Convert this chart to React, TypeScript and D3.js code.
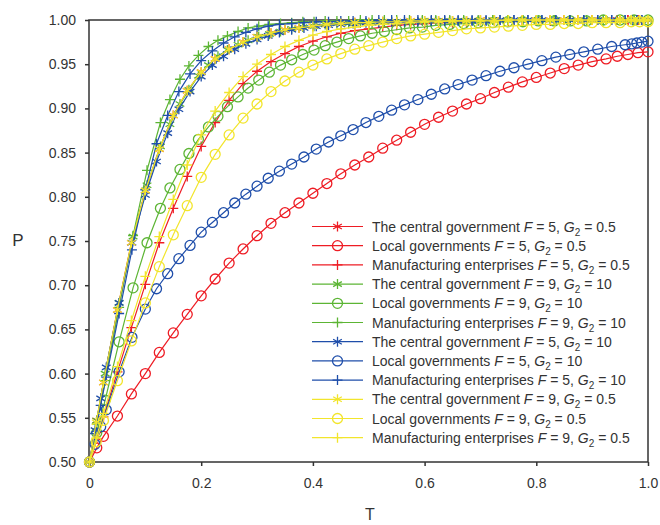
import React, { useEffect, useRef } from "react";
import * as d3 from "d3";

// time points of each solver run (one run per parameter set)
const tRed = [0, 0.013, 0.025, 0.05, 0.075, 0.1, 0.125, 0.15, 0.175, 0.2, 0.225, 0.25, 0.275, 0.3, 0.325, 0.35, 0.375, 0.4, 0.425, 0.45, 0.475, 0.5, 0.525, 0.55, 0.575, 0.6, 0.625, 0.65, 0.675, 0.7, 0.725, 0.75, 0.775, 0.8, 0.825, 0.85, 0.875, 0.9, 0.925, 0.945, 0.964, 0.982, 1.0];
const tGreen = [0, 0.013, 0.028, 0.053, 0.078, 0.103, 0.127, 0.144, 0.162, 0.178, 0.195, 0.213, 0.23, 0.247, 0.266, 0.284, 0.303, 0.322, 0.342, 0.362, 0.382, 0.402, 0.422, 0.443, 0.464, 0.485, 0.506, 0.528, 0.55, 0.573, 0.596, 0.62, 0.645, 0.67, 0.696, 0.722, 0.749, 0.776, 0.804, 0.832, 0.861, 0.89, 0.92, 0.95, 0.975, 1.0];
const tBlue = [0, 0.01, 0.02, 0.03, 0.053, 0.076, 0.1, 0.12, 0.14, 0.16, 0.18, 0.2, 0.22, 0.24, 0.26, 0.28, 0.3, 0.32, 0.34, 0.362, 0.384, 0.406, 0.428, 0.45, 0.472, 0.495, 0.518, 0.541, 0.564, 0.588, 0.612, 0.636, 0.66, 0.685, 0.71, 0.735, 0.76, 0.785, 0.81, 0.835, 0.86, 0.885, 0.91, 0.935, 0.959, 0.971, 0.98, 0.989, 1.0];
const tYellow = [0, 0.012, 0.025, 0.05, 0.075, 0.1, 0.125, 0.15, 0.175, 0.2, 0.225, 0.25, 0.275, 0.3, 0.325, 0.35, 0.375, 0.4, 0.425, 0.45, 0.475, 0.5, 0.525, 0.55, 0.575, 0.6, 0.625, 0.65, 0.675, 0.7, 0.725, 0.75, 0.775, 0.8, 0.825, 0.85, 0.875, 0.9, 0.925, 0.95, 0.97, 0.985, 1.0];

// F = 5, G2 = 0.5
const redCentral = [0.5, 0.547, 0.59, 0.672, 0.748, 0.807, 0.854, 0.892, 0.92, 0.941, 0.956, 0.967, 0.975, 0.981, 0.985, 0.989, 0.991, 0.993, 0.995, 0.996, 0.997, 0.997, 0.998, 0.998, 0.999, 0.999, 0.999, 0.999, 0.999, 1.0, 1.0, 1.0, 1.0, 1.0, 1.0, 1.0, 1.0, 1.0, 1.0, 1.0, 1.0, 1.0, 1.0];
const redLocal = [0.5, 0.516, 0.529, 0.552, 0.577, 0.6, 0.624, 0.646, 0.667, 0.688, 0.707, 0.725, 0.741, 0.756, 0.77, 0.782, 0.793, 0.804, 0.815, 0.826, 0.836, 0.845, 0.855, 0.864, 0.873, 0.882, 0.89, 0.897, 0.905, 0.911, 0.918, 0.924, 0.93, 0.935, 0.94, 0.945, 0.949, 0.953, 0.956, 0.959, 0.961, 0.963, 0.964];
const redManufacturing = [0.5, 0.526, 0.551, 0.602, 0.652, 0.701, 0.748, 0.787, 0.823, 0.857, 0.884, 0.909, 0.928, 0.942, 0.953, 0.962, 0.97, 0.976, 0.981, 0.985, 0.988, 0.99, 0.992, 0.994, 0.995, 0.996, 0.997, 0.997, 0.998, 0.998, 0.999, 0.999, 0.999, 0.999, 0.999, 1.0, 1.0, 1.0, 1.0, 1.0, 1.0, 1.0, 1.0];

// F = 9, G2 = 10
const greenCentral = [0.5, 0.547, 0.6, 0.68, 0.755, 0.813, 0.857, 0.882, 0.905, 0.921, 0.937, 0.949, 0.959, 0.966, 0.972, 0.977, 0.981, 0.984, 0.987, 0.99, 0.992, 0.993, 0.995, 0.996, 0.996, 0.997, 0.997, 0.998, 0.998, 0.998, 0.999, 0.999, 0.999, 0.999, 0.999, 1.0, 1.0, 1.0, 1.0, 1.0, 1.0, 1.0, 1.0, 1.0, 1.0, 1.0];
const greenLocal = [0.5, 0.533, 0.57, 0.636, 0.697, 0.748, 0.787, 0.81, 0.831, 0.849, 0.865, 0.879, 0.891, 0.902, 0.913, 0.923, 0.932, 0.941, 0.949, 0.955, 0.961, 0.966, 0.971, 0.975, 0.979, 0.982, 0.985, 0.987, 0.989, 0.991, 0.992, 0.994, 0.995, 0.996, 0.997, 0.997, 0.998, 0.998, 0.999, 0.999, 0.999, 0.999, 1.0, 1.0, 1.0, 1.0];
const greenManufacturing = [0.5, 0.543, 0.592, 0.675, 0.756, 0.83, 0.884, 0.91, 0.933, 0.948, 0.96, 0.97, 0.977, 0.982, 0.987, 0.991, 0.993, 0.995, 0.996, 0.997, 0.998, 0.998, 0.999, 0.999, 0.999, 1.0, 1.0, 1.0, 1.0, 1.0, 1.0, 1.0, 1.0, 1.0, 1.0, 1.0, 1.0, 1.0, 1.0, 1.0, 1.0, 1.0, 1.0, 1.0, 1.0, 1.0];

// F = 5, G2 = 10
const blueCentral = [0.5, 0.536, 0.572, 0.607, 0.68, 0.748, 0.802, 0.84, 0.872, 0.899, 0.919, 0.936, 0.949, 0.959, 0.967, 0.973, 0.978, 0.982, 0.986, 0.989, 0.991, 0.993, 0.994, 0.995, 0.996, 0.997, 0.997, 0.998, 0.998, 0.998, 0.999, 0.999, 0.999, 0.999, 0.999, 1.0, 1.0, 1.0, 1.0, 1.0, 1.0, 1.0, 1.0, 1.0, 1.0, 1.0, 1.0, 1.0, 1.0];
const blueLocal = [0.5, 0.52, 0.54, 0.559, 0.602, 0.641, 0.673, 0.696, 0.713, 0.73, 0.745, 0.76, 0.771, 0.782, 0.793, 0.803, 0.812, 0.821, 0.829, 0.837, 0.845, 0.854, 0.862, 0.869, 0.876, 0.884, 0.891, 0.898, 0.904, 0.91, 0.916, 0.922, 0.927, 0.932, 0.937, 0.942, 0.946, 0.95, 0.954, 0.958, 0.961, 0.964, 0.967, 0.97, 0.972, 0.973, 0.974, 0.975, 0.976];
const blueManufacturing = [0.5, 0.532, 0.564, 0.596, 0.668, 0.74, 0.808, 0.86, 0.892, 0.919, 0.939, 0.954, 0.965, 0.974, 0.981, 0.986, 0.99, 0.993, 0.995, 0.996, 0.997, 0.998, 0.998, 0.999, 0.999, 0.999, 1.0, 1.0, 1.0, 1.0, 1.0, 1.0, 1.0, 1.0, 1.0, 1.0, 1.0, 1.0, 1.0, 1.0, 1.0, 1.0, 1.0, 1.0, 1.0, 1.0, 1.0, 1.0, 1.0];

// F = 9, G2 = 0.5
const yellowCentral = [0.5, 0.545, 0.59, 0.672, 0.748, 0.807, 0.854, 0.892, 0.92, 0.941, 0.956, 0.967, 0.975, 0.981, 0.985, 0.989, 0.991, 0.993, 0.995, 0.996, 0.997, 0.997, 0.998, 0.998, 0.999, 0.999, 0.999, 0.999, 0.999, 1.0, 1.0, 1.0, 1.0, 1.0, 1.0, 1.0, 1.0, 1.0, 1.0, 1.0, 1.0, 1.0, 1.0];
const yellowLocal = [0.5, 0.523, 0.547, 0.592, 0.637, 0.68, 0.721, 0.757, 0.79, 0.822, 0.848, 0.87, 0.889, 0.905, 0.919, 0.931, 0.941, 0.949, 0.956, 0.962, 0.967, 0.971, 0.975, 0.979, 0.982, 0.984, 0.986, 0.988, 0.99, 0.991, 0.992, 0.993, 0.994, 0.995, 0.995, 0.996, 0.996, 0.997, 0.997, 0.997, 0.998, 0.998, 0.998];
const yellowManufacturing = [0.5, 0.527, 0.555, 0.608, 0.66, 0.71, 0.755, 0.797, 0.836, 0.87, 0.897, 0.918, 0.936, 0.95, 0.961, 0.97, 0.977, 0.983, 0.987, 0.99, 0.992, 0.994, 0.995, 0.996, 0.997, 0.998, 0.998, 0.999, 0.999, 0.999, 0.999, 1.0, 1.0, 1.0, 1.0, 1.0, 1.0, 1.0, 1.0, 1.0, 1.0, 1.0, 1.0];

const players = ["The central government", "Local governments", "Manufacturing enterprises"];
const fValues = [5, 9, 5, 9];
const g2Values = ["0.5", "10", "10", "0.5"];
const xTicks = [0, 0.2, 0.4, 0.6, 0.8, 1.0];
const yTicks = [0.5, 0.55, 0.6, 0.65, 0.7, 0.75, 0.8, 0.85, 0.9, 0.95, 1.0];

const groups = [
  { color: "#ee1c24", t: tRed, runs: [redCentral, redLocal, redManufacturing] },
  { color: "#5cb534", t: tGreen, runs: [greenCentral, greenLocal, greenManufacturing] },
  { color: "#1f4eaa", t: tBlue, runs: [blueCentral, blueLocal, blueManufacturing] },
  { color: "#f2e52c", t: tYellow, runs: [yellowCentral, yellowLocal, yellowManufacturing] },
];

const markerPaths = [
  "M0,-5V5M-4.33,-2.5L4.33,2.5M-4.33,2.5L4.33,-2.5", // asterisk
  d3.symbol().type(d3.symbolCircle).size(Math.PI * 25)()!, // open circle
  "M-5,0H5M0,-5V5", // plus
];

const W = 660;
const H = 525;
const FONT = "'Liberation Sans', Arial, Helvetica, sans-serif";

function Chart() {
  const ref = useRef<SVGSVGElement>(null);

  useEffect(() => {
    const svg = d3.select(ref.current!);
    svg.selectAll("*").remove();

    const x = d3.scaleLinear().domain([0, 1]).range([89.5, 648]);
    const y = d3.scaleLinear().domain([0.5, 1]).range([462, 20]);

    // axes
    const yAxis = svg
      .append("g")
      .attr("transform", "translate(89,0)")
      .call(d3.axisLeft(y).tickValues(yTicks).tickFormat(d3.format(".2f")).tickSize(4).tickSizeOuter(0).tickPadding(9));
    const xAxis = svg
      .append("g")
      .attr("transform", "translate(0,462)")
      .call(
        d3
          .axisBottom(x)
          .tickValues(xTicks)
          .tickFormat((d) => (+d === 0 ? "0" : d3.format(".1f")(+d)))
          .tickSize(4)
          .tickSizeOuter(0)
          .tickPadding(12)
      );
    [xAxis, yAxis].forEach((ax) => {
      ax.select(".domain").remove();
      ax.selectAll("line").attr("stroke", "#333").attr("stroke-width", 1.5);
      ax.selectAll("text").attr("fill", "#333").style("font-family", FONT).style("font-size", "14px");
    });

    svg
      .append("rect")
      .attr("x", 89)
      .attr("y", 20)
      .attr("width", 559)
      .attr("height", 442)
      .attr("fill", "none")
      .attr("stroke", "#333")
      .attr("stroke-width", 1.5);

    svg
      .append("text")
      .attr("x", 18)
      .attr("y", 246)
      .attr("text-anchor", "middle")
      .attr("fill", "#333")
      .style("font-family", FONT)
      .style("font-size", "17px")
      .text("P");
    svg
      .append("text")
      .attr("x", 370)
      .attr("y", 520)
      .attr("text-anchor", "middle")
      .attr("fill", "#333")
      .style("font-family", FONT)
      .style("font-size", "16px")
      .text("T");

    // curves
    const line = d3
      .line<[number, number]>()
      .x((d) => x(d[0]))
      .y((d) => y(d[1]));

    groups.forEach((g) => {
      g.runs.forEach((vals, k) => {
        const pts: [number, number][] = g.t.map((t, i) => [t, vals[i]]);
        const s = svg.append("g");
        s.append("path")
          .attr("d", line(pts))
          .attr("fill", "none")
          .attr("stroke", g.color)
          .attr("stroke-width", 1.2);
        s.selectAll("path.m")
          .data(pts)
          .join("path")
          .attr("class", "m")
          .attr("transform", (d) => `translate(${x(d[0])},${y(d[1])})`)
          .attr("d", markerPaths[k])
          .attr("fill", "none")
          .attr("stroke", g.color)
          .attr("stroke-width", 1.3);
      });
    });

    // legend
    const legend = svg.append("g").attr("transform", "translate(312,226.5)");
    let row = 0;
    groups.forEach((g, gi) => {
      players.forEach((name, k) => {
        const r = legend.append("g").attr("transform", `translate(0,${row * 19.2})`);
        r.append("line").attr("x1", 0).attr("x2", 51).attr("stroke", g.color).attr("stroke-width", 1.2);
        r.append("path")
          .attr("transform", "translate(25.5,0)")
          .attr("d", markerPaths[k])
          .attr("fill", "none")
          .attr("stroke", g.color)
          .attr("stroke-width", 1.3);
        const txt = r
          .append("text")
          .attr("x", 60)
          .attr("y", 5)
          .attr("fill", "#333")
          .style("font-family", FONT)
          .style("font-size", "14px");
        txt.append("tspan").text(`${name} `);
        txt.append("tspan").style("font-style", "italic").text("F");
        txt.append("tspan").text(` = ${fValues[gi]}, `);
        txt.append("tspan").style("font-style", "italic").text("G");
        txt.append("tspan").attr("dy", 4).style("font-size", "10px").text("2");
        txt.append("tspan").attr("dy", -4).text(` = ${g2Values[gi]}`);
        row++;
      });
    });
  }, []);

  return <svg ref={ref} width={W} height={H} style={{ position: "absolute", left: 0, top: 0, background: "#fff" }} />;
}

export default function App() {
  return <Chart />;
}
